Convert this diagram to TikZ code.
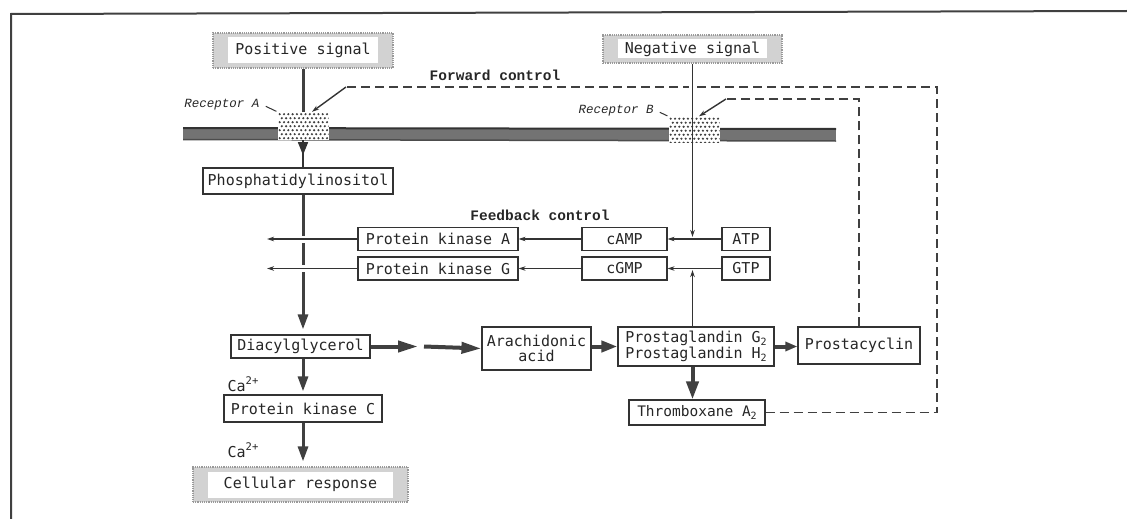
\documentclass[tikz,border=0pt]{standalone}
\usepackage{fontspec}
\setmainfont{DejaVu Sans Mono}
\newfontfamily\tagfont{Liberation Mono}
\usetikzlibrary{arrows.meta,decorations.markings,calc}

% small lowered / raised figures for chemical formulas
\newcommand\subtxt[1]{\raisebox{-3pt}{\fontsize{10}{10}\selectfont #1}}
\newcommand\suptxt[1]{\raisebox{6.5pt}{\fontsize{10.5}{10}\selectfont #1}}

\tikzset{
  every node/.style={text=black!85},
  box/.style={draw=black!80, line width=1.2pt, fill=white, inner sep=0pt,
    font=\fontsize{15}{16}\selectfont, align=center},
  signal/.style={inner sep=0pt, fill=gray!35, draw=gray!80, densely dotted,
    line width=1.2pt, font=\fontsize{15}{16}\selectfont,
    path picture={\fill[white]
      ([xshift=15pt,yshift=-4.5pt]path picture bounding box.north west) rectangle
      ([xshift=-15pt,yshift=4.5pt]path picture bounding box.south east);}},
  receptor/.style={inner sep=0pt, fill=white, minimum width=51pt,
    path picture={
      \foreach \i in {0,...,11} \foreach \j in {0,...,6}
        \fill[black!75] ([xshift={2.2pt+\i*4.3pt+mod(\j,2)*2.1pt},
          yshift={-2.2pt-\j*4pt}]path picture bounding box.north west) circle (1.2pt);}},
  ctrl/.style={font=\tagfont\bfseries\fontsize{14.5}{15}\selectfont},
  rlabel/.style={font=\tagfont\itshape\fontsize{12.5}{13}\selectfont},
  wire/.style={draw=black!80, line width=1.1pt},
  wirearr/.style={wire, -{Stealth[length=7pt,width=4.5pt]}},
  stem/.style={draw=black!75, line width=3pt},
  stemarr/.style={stem, -{Triangle[length=15pt,width=10pt]}},
  heavyarr/.style={draw=black!75, line width=4pt, -{Triangle[length=20pt,width=11pt]}},
  ctrlpath/.style={draw=black!75, line width=1.6pt, dash pattern=on 9pt off 5pt},
  knock/.style={preaction={draw=white, line width=7pt, -, shorten <=2pt}},
}

\begin{document}
\begin{tikzpicture}[x=1pt, y=-1pt]
\useasboundingbox (0,0) rectangle (1127,519);

% frame
\draw[line width=2pt, black!75] (1127,11) -- (11,14) -- (11,519);

% cell membrane
\fill[black!55] (183,128) rectangle (836,140);
\draw[line width=2pt, black!80] (183,128) -- (836,129);
\draw[line width=1.5pt, black!70] (183,139.5) -- (836,141);

% receptors in the membrane
\node[receptor, minimum height=28pt] (ra) at (303,126) {};
\node[receptor, minimum height=26pt] (rb) at (694,129.5) {};
\node[rlabel] (rla) at (222,105) {Receptor A};
\node[rlabel] (rlb) at (616,111) {Receptor B};
\draw[wire, line width=1pt, shorten <=3pt, shorten >=1pt] (rla.east) -- (ra.north west);
\draw[wire, line width=1pt, shorten <=3pt, shorten >=1pt] (rlb.east) -- (rb.north west);

% signals
\node[signal, minimum width=180pt, minimum height=35pt] (pos) at (303,50.5) {Positive signal};
\node[signal, minimum width=179pt, minimum height=28pt] (neg) at (692.5,49) {Negative signal};
\node[signal, minimum width=215pt, minimum height=35pt] (cell) at (300.5,484.5) {Cellular response};

% pathway boxes
\node[box, minimum width=190pt, minimum height=26pt] (phos) at (298,181) {Phosphatidylinositol};
\node[box, minimum width=160pt, minimum height=23pt] (pka) at (438,239) {Protein kinase A};
\node[box, minimum width=160pt, minimum height=23pt] (pkg) at (438,268.5) {Protein kinase G};
\node[box, minimum width=85pt, minimum height=23pt] (camp) at (624.5,239) {cAMP};
\node[box, minimum width=85pt, minimum height=23pt] (cgmp) at (624.5,268.5) {cGMP};
\node[box, minimum width=48pt, minimum height=23pt] (atp) at (746,239) {ATP};
\node[box, minimum width=48pt, minimum height=23pt] (gtp) at (746,268.5) {GTP};
\node[box, minimum width=139pt, minimum height=23pt] (diac) at (300.5,346.5) {Diacylglycerol};
\node[box, minimum width=109pt, minimum height=43pt, font=\fontsize{15}{15.5}\selectfont] (arach) at (536.5,348.5) {Arachidonic\\acid};
\node[box, minimum width=156pt, minimum height=39pt, font=\fontsize{15}{15.5}\selectfont] (pg) at (696,346.5) {Prostaglandin G\subtxt{2}\\Prostaglandin H\subtxt{2}};
\node[box, minimum width=122pt, minimum height=37pt] (pcyc) at (859,345.5) {Prostacyclin};
\node[box, minimum width=158pt, minimum height=27pt] (pkc) at (303,408.5) {Protein kinase C};
\node[box, minimum width=136pt, minimum height=25pt, font=\fontsize{14.5}{15}\selectfont] (tbx) at (697,412.5) {Thromboxane A\subtxt{2}};

% labels
\node[ctrl] (fwdl) at (495,75) {Forward control};
\node[ctrl] (fbl) at (540,215) {Feedback control};
\node[font=\fontsize{15}{16}\selectfont] (ca1) at (243,384) {Ca\suptxt{2+}};
\node[font=\fontsize{15}{16}\selectfont] (ca2) at (243,450) {Ca\suptxt{2+}};

% control paths (dashed)
\coordinate (fwdtop) at (937,87);
\coordinate (fa) at (346,87);
\coordinate (fb) at (726,99);
\draw[ctrlpath] (tbx.east) -| (fwdtop) -- (fa);
\draw[ctrlpath] (pcyc.north) |- (fb);
\draw[wirearr, line width=1.4pt] (fa) -- ([xshift=9pt]ra.north);
\draw[wirearr, line width=1.4pt] (fb) -- ([xshift=5pt]rb.north);

% negative signal pathway
\fill[white] ($(neg.south |- fwdtop)+(-4,-4)$) rectangle ++(8,8);
\draw[wirearr, shorten >=2pt] (neg.south) -- (neg.south |- camp.east);
\draw[wirearr, shorten >=1.5pt] (neg.south |- pg.north) -- (neg.south |- cgmp.east);

% positive signal pathway
\draw[stem] (pos.south) -- (pos.south |- ra.north);
\draw[wire, line width=1.4pt, postaction={decorate},
  decoration={markings, mark=at position 0.55 with {\arrow{Triangle[length=13pt,width=10pt]}}}]
  (pos.south |- ra.south) -- (pos.south |- phos.north);
\draw[stemarr, shorten >=5pt] (pos.south |- phos.south) -- (pos.south |- diac.north);
\draw[stemarr, shorten >=3pt] (pos.south |- diac.south) -- (pos.south |- pkc.north);
\draw[stemarr, shorten >=5pt] (pos.south |- pkc.south) -- (pos.south |- cell.north);

% feedback arrows
\coordinate (pkaend) at (267,239);
\coordinate (pkgend) at (267,268.5);
\draw[wirearr] (atp.west) -- (camp.east);
\draw[wirearr] (gtp.west) -- (cgmp.east);
\draw[wirearr] (camp.west) -- (pka.east);
\draw[wirearr] (cgmp.west) -- (pkg.east);
\draw[wirearr, knock] (pka.west) -- (pkaend);
\draw[wirearr, knock] (pkg.west) -- (pkgend);

% arachidonic acid cascade
\coordinate (dmid1) at (418,346.5);
\coordinate (dmid2) at (424,346.5);
\draw[heavyarr] (diac.east) -- (dmid1);
\draw[heavyarr] (dmid2) -- (arach.west);
\draw[heavyarr, -{Triangle[length=16pt,width=11pt]}] (arach.east |- pg.west) -- (pg.west);
\draw[heavyarr, -{Triangle[length=12pt,width=9pt]}] (pg.east) -- (pcyc.west |- pg.east);
\draw[heavyarr, -{Triangle[length=18pt,width=12pt]}] (neg.south |- pg.south) -- (neg.south |- tbx.north);
\end{tikzpicture}
\end{document}
